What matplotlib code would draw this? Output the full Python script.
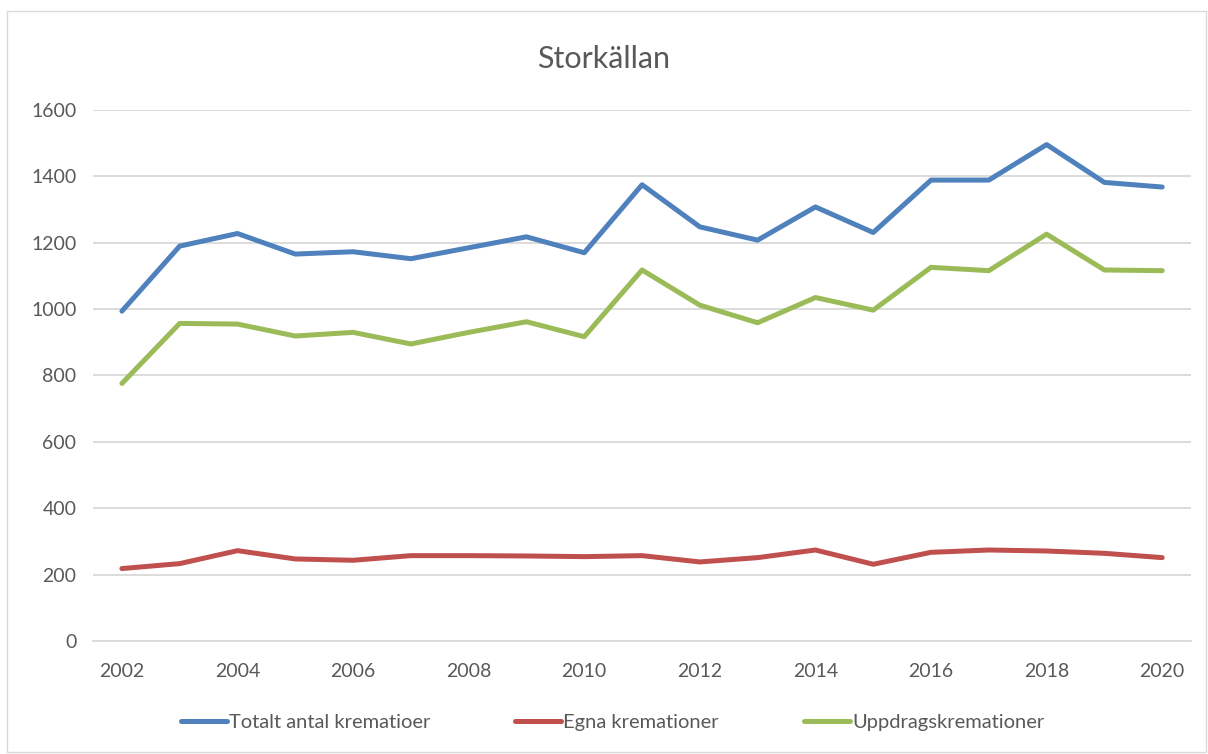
import matplotlib.pyplot as plt
from matplotlib.patches import Rectangle

years = list(range(2002, 2021))
totalt = [994, 1190, 1228, 1166, 1173, 1152, 1185, 1218, 1170, 1375,
          1248, 1208, 1308, 1231, 1389, 1389, 1496, 1382, 1368]
egna = [218, 233, 272, 247, 243, 257, 257, 256, 254, 257,
        238, 251, 274, 231, 267, 274, 271, 264, 251]
uppdrag = [776, 957, 955, 919, 930, 895, 930, 962, 917, 1118,
           1012, 959, 1035, 997, 1126, 1116, 1226, 1118, 1116]

series = [
    ("Totalt antal krematioer", totalt, "#4F81BD"),
    ("Egna kremationer", egna, "#C0504D"),
    ("Uppdragskremationer", uppdrag, "#9BBB59"),
]

plt.rcParams['font.family'] = ['Lato', 'DejaVu Sans']
text_color = "#595959"

fig = plt.figure(figsize=(12.08, 7.54), dpi=100)
ax = fig.add_axes([0.077, 0.150, 0.909, 0.704])

for label, values, color in series:
    ax.plot(years, values, color=color, linewidth=3.6, label=label,
            solid_capstyle='round', solid_joinstyle='round')

ax.set_ylim(0, 1600)
ax.set_xlim(2001.5, 2020.5)
ax.set_yticks(range(0, 1601, 200))
ax.set_xticks(range(2002, 2021, 2))
ax.grid(axis='y', color='#D9D9D9', linewidth=1.3)
ax.set_axisbelow(True)
for side in ['top', 'right', 'left']:
    ax.spines[side].set_visible(False)
ax.spines['bottom'].set_color('#D9D9D9')
ax.spines['bottom'].set_linewidth(1.3)
ax.tick_params(axis='both', length=0, labelsize=14, labelcolor=text_color)
ax.tick_params(axis='x', pad=16)
ax.tick_params(axis='y', pad=12)

fig.suptitle("Storkällan", fontsize=22, color=text_color, y=0.94)

fig.legend(loc='center', bbox_to_anchor=(0.507, 0.042), ncol=3, frameon=False,
           fontsize=14.5, labelcolor=text_color, handlelength=2.3, handletextpad=0.1,
           columnspacing=4.2)

fig.patches.append(Rectangle((0.006, 0.002), 0.992, 0.984, transform=fig.transFigure,
                             fill=False, edgecolor='#D9D9D9', linewidth=1))

fig.savefig("out.png", dpi=100)
